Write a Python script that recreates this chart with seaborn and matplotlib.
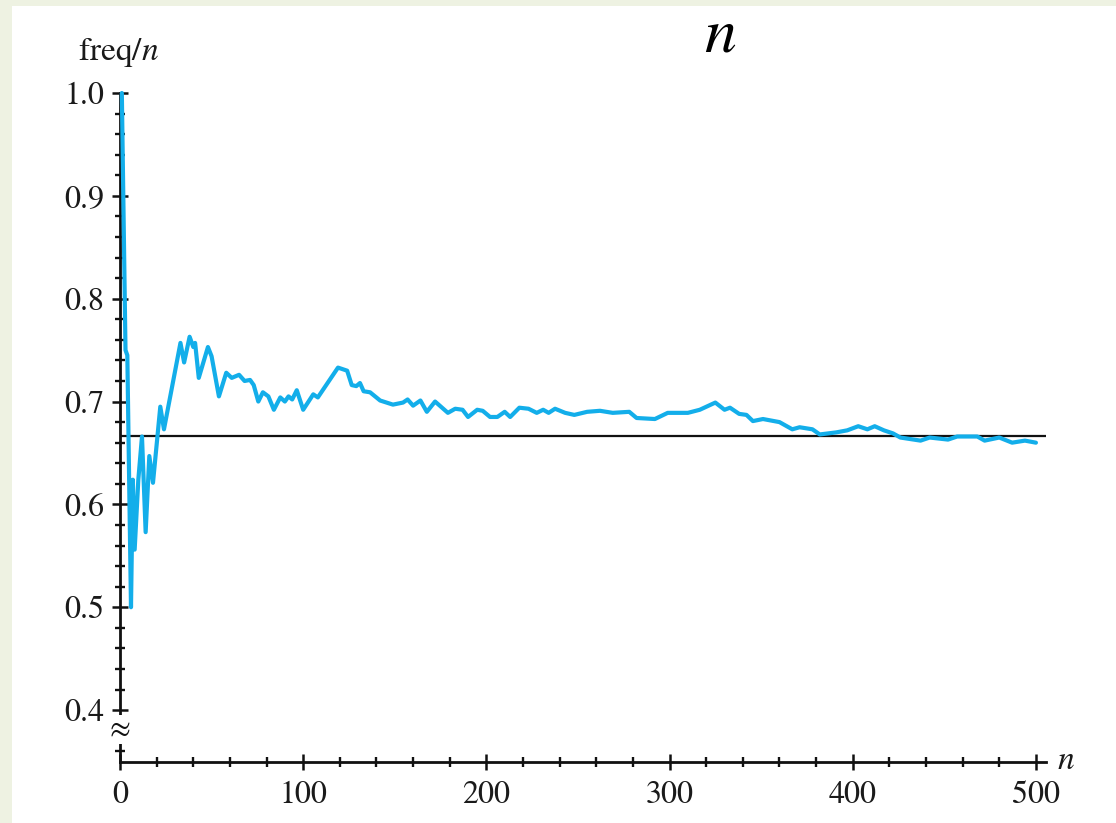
import numpy as np
import pandas as pd
import seaborn as sns
import matplotlib
matplotlib.use('Agg')
import matplotlib.pyplot as plt
from matplotlib.patches import Rectangle
from matplotlib.ticker import FixedLocator

# running relative frequency
n_vals = [1, 3, 4, 6, 7, 8, 10, 12, 14, 16, 18, 22, 24, 33, 35, 38, 40, 41, 43, 48,
          50, 54, 58, 61, 65, 68, 71, 73, 75.5, 78, 81, 84, 87.5, 90, 92, 94, 96.5, 100,
          105.5, 108, 119, 124, 126.5, 129, 131, 133, 136.5, 142, 149, 154.5, 157, 160,
          164, 167.5, 172, 179, 183, 187, 190, 195, 198, 202, 206, 210, 213, 218, 223,
          227.5, 231, 234, 237.5, 243, 248, 255, 262, 269, 278, 282, 292, 299, 310,
          316.5, 325, 330, 333, 338, 342, 345.5, 351, 360, 367, 371, 378, 382, 391, 397,
          403, 408, 412, 417, 422, 426, 437, 442, 452, 457, 468, 472, 480, 487, 494, 500]
freq_vals = [1.000, 0.750, 0.745, 0.500, 0.624, 0.556, 0.624, 0.666, 0.573, 0.647, 0.621,
             0.695, 0.673, 0.757, 0.738, 0.763, 0.753, 0.757, 0.723, 0.753, 0.744, 0.705,
             0.728, 0.723, 0.726, 0.720, 0.721, 0.716, 0.700, 0.709, 0.705, 0.692, 0.704,
             0.700, 0.705, 0.702, 0.711, 0.692, 0.707, 0.704, 0.733, 0.730, 0.716, 0.715,
             0.718, 0.710, 0.709, 0.701, 0.697, 0.699, 0.702, 0.696, 0.701, 0.690, 0.700,
             0.689, 0.693, 0.692, 0.685, 0.692, 0.691, 0.685, 0.685, 0.690, 0.685, 0.694,
             0.693, 0.689, 0.692, 0.689, 0.693, 0.689, 0.687, 0.690, 0.691, 0.689, 0.690,
             0.684, 0.683, 0.689, 0.689, 0.692, 0.699, 0.692, 0.694, 0.688, 0.687, 0.681,
             0.683, 0.680, 0.673, 0.675, 0.673, 0.668, 0.670, 0.672, 0.676, 0.673, 0.676,
             0.672, 0.669, 0.665, 0.662, 0.665, 0.663, 0.666, 0.666, 0.662, 0.665, 0.660,
             0.662, 0.660]
limit_val = 2 / 3

x_major = [0, 100, 200, 300, 400, 500]
y_major = [0.4, 0.5, 0.6, 0.7, 0.8, 0.9, 1.0]
y_labels = ['0.4', '0.5', '0.6', '0.7', '0.8', '0.9', '1.0']

df = pd.DataFrame({'n': n_vals, 'freq': freq_vals})

sns.set_style('ticks')
plt.rcParams['font.family'] = ['STIXGeneral', 'DejaVu Serif']
plt.rcParams['mathtext.fontset'] = 'stix'

W, H = 1116, 823
fig = plt.figure(figsize=(W / 100, H / 100), dpi=100, facecolor='#eef2e2')
fig.patches.append(Rectangle((12 / W, 0), 1 - 12 / W, (H - 6) / H, transform=fig.transFigure,
                             facecolor='white', edgecolor='none', zorder=-5))

ax = fig.add_axes([120 / W, 1 - 761.5 / H, 926 / W, 668.5 / H])
ax.set_facecolor('white')

sns.lineplot(data=df, x='n', y='freq', ax=ax, color='#13aeea', lw=3.0,
             estimator=None, sort=False, clip_on=False, zorder=3)
ax.axhline(limit_val, color='#111111', lw=1.6, zorder=2)

ax.set_xlim(0, 505.5)
ax.set_ylim(0.35, 1.0)
sns.despine(ax=ax)
for s in ['left', 'bottom']:
    ax.spines[s].set_linewidth(2.0)
    ax.spines[s].set_color('#111111')

ax.set_xticks(x_major)
ax.xaxis.set_minor_locator(FixedLocator([v for v in range(20, 501, 20) if v % 100]))
ax.set_yticks(y_major)
ax.set_yticklabels(y_labels)
y_minor = [0.36] + [round(0.4 + 0.02 * i, 2) for i in range(1, 30) if i % 5]
ax.yaxis.set_minor_locator(FixedLocator(y_minor))
ax.tick_params(which='major', direction='inout', length=11, width=1.8, color='#111111',
               labelsize=23, labelcolor='#1a1a1a')
ax.tick_params(which='minor', direction='inout', length=7, width=1.7, color='#111111')
ax.tick_params(axis='x', which='major', pad=8)
ax.tick_params(axis='y', which='major', pad=6)
ax.set_xlabel('')
ax.set_ylabel('')

# axis break mark
ax.text(0, 0.381, '\u2248', fontsize=22, ha='center', va='center', color='#111111',
        bbox=dict(facecolor='white', edgecolor='none', pad=0.5), zorder=5, clip_on=False)

fig.text(78 / W, 1 - 60 / H, 'freq/$n$', fontsize=24, color='#1a1a1a', va='baseline')
fig.text(1057 / W, 1 - 769 / H, '$n$', fontsize=24, color='#1a1a1a', va='baseline')
fig.text(720 / W, 1 - 52 / H, '$n$', fontsize=46, color='black', ha='center', va='baseline')

fig.savefig('out.png', dpi=100, facecolor=fig.get_facecolor())
